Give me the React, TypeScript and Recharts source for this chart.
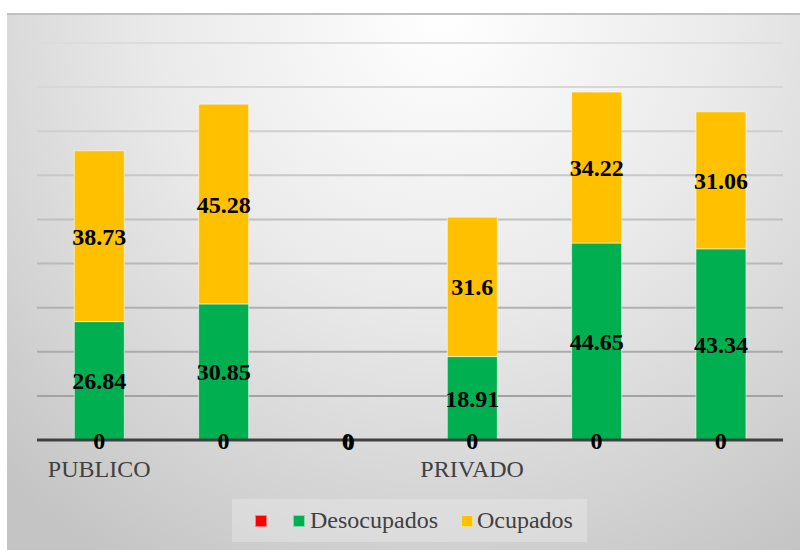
import React from "react";
import { BarChart, Bar, XAxis, YAxis, CartesianGrid, LabelList } from "recharts";

const slots = ["s1", "s2", "s3", "s4", "s5", "s6"];
const tickLabels = ["PUBLICO", "", "", "PRIVADO", "", ""];
const serieRoja: (number | null)[] = [0, 0, 0, 0, 0, 0];
const desocupados: (number | null)[] = [26.84, 30.85, 0, 18.91, 44.65, 43.34];
const ocupados: (number | null)[] = [38.73, 45.28, null, 31.6, 34.22, 31.06];
const yTicks = [0, 10, 20, 30, 40, 50, 60, 70, 80, 90];

const data = slots.map((s, i) => ({
  slot: s,
  label: tickLabels[i],
  roja: serieRoja[i],
  desocupados: desocupados[i],
  ocupados: ocupados[i],
}));

const FONT = "'Liberation Serif', 'Times New Roman', serif";

const gridColor = (y: number) => {
  const t = Math.max(0, Math.min(1, (y - 43) / (396 - 43)));
  const v = Math.round(0xdc - t * (0xdc - 0xa0));
  return `rgb(${v},${v},${v})`;
};

const renderGridLine = (props: any) => {
  const { x1, x2, y1, y2, index } = props;
  return (
    <line
      key={`gl-${index}-${y1}`}
      x1={x1}
      x2={x2}
      y1={y1}
      y2={y2}
      stroke={gridColor(y1)}
      strokeWidth={2}
    />
  );
};

// Zero-valued segments sit on the axis line, so their "0" labels are drawn at the tick.
const CatTick = (props: any) => {
  const { x, y, index } = props;
  const label = tickLabels[index] ?? "";
  const zeros: number[] = [];
  if (serieRoja[index] === 0) zeros.push(0);
  if (desocupados[index] === 0) zeros.push(1);
  if (ocupados[index] === 0) zeros.push(2);
  return (
    <g>
      {zeros.map((z, k) => (
        <text
          key={`z-${k}`}
          x={x + k * 0.8}
          y={y - 7 + k * 0.6}
          textAnchor="middle"
          dominantBaseline="central"
          fontFamily={FONT}
          fontSize={24}
          fontWeight={700}
          fill="#000000"
        >
          0
        </text>
      ))}
      <text
        x={x}
        y={y + 29}
        textAnchor="middle"
        fontFamily={FONT}
        fontSize={24}
        fill="#404040"
      >
        {label}
      </text>
    </g>
  );
};

const labelStyle = {
  fontFamily: FONT,
  fontSize: 24,
  fontWeight: 700,
  fill: "#000000",
};

const fmt = (v: any) => (v === null || v === undefined || v === 0 ? "" : String(v));

export default function App() {
  return (
    <div
      style={{
        position: "absolute",
        left: 7,
        top: 13,
        width: 793,
        height: 537,
        background:
          "radial-gradient(ellipse 80% 120% at 55% 0%, #ffffff 0%, #eaeaea 45%, #d2d2d2 80%, #c4c4c4 100%)",
        boxShadow: "inset 0 2px 0 #c0c0c0",
      }}
    >
      <BarChart
        width={793}
        height={537}
        data={data}
        margin={{ top: 30, right: 17, left: 30, bottom: 60 }}
        barCategoryGap="30%"
      >
        <CartesianGrid vertical={false} horizontal={renderGridLine} />
        <YAxis hide domain={[0, 90]} ticks={yTicks} />
        <XAxis
          dataKey="slot"
          tick={<CatTick />}
          tickLine={false}
          axisLine={{ stroke: "#404040", strokeWidth: 3 }}
          height={50}
          interval={0}
        />
        <Bar dataKey="roja" stackId="a" fill="#ff0000" isAnimationActive={false} />
        <Bar
          dataKey="desocupados"
          stackId="a"
          fill="#00b050"
          stroke="rgba(255,255,255,0.55)"
          strokeWidth={1}
          isAnimationActive={false}
        >
          <LabelList dataKey="desocupados" position="center" style={labelStyle} formatter={fmt} />
        </Bar>
        <Bar
          dataKey="ocupados"
          stackId="a"
          fill="#ffc000"
          stroke="rgba(255,255,255,0.55)"
          strokeWidth={1}
          isAnimationActive={false}
        >
          <LabelList dataKey="ocupados" position="center" style={labelStyle} formatter={fmt} />
        </Bar>
      </BarChart>
      <div
        style={{
          position: "absolute",
          left: 225,
          top: 486,
          width: 355,
          height: 43,
          background: "rgba(232,232,232,0.45)",
          display: "flex",
          alignItems: "center",
          fontFamily: FONT,
          fontSize: 24,
          color: "#404040",
          whiteSpace: "nowrap",
        }}
      >
        <span style={{ display: "inline-block", width: 12, height: 12, background: "#ff0000", marginLeft: 23, border: "1px solid rgba(255,255,255,0.5)", boxSizing: "border-box" }} />
        <span style={{ display: "inline-block", width: 12, height: 12, background: "#00b050", marginLeft: 26, border: "1px solid rgba(255,255,255,0.5)", boxSizing: "border-box" }} />
        <span style={{ marginLeft: 5 }}>Desocupados</span>
        <span style={{ display: "inline-block", width: 12, height: 12, background: "#ffc000", marginLeft: 23, border: "1px solid rgba(255,255,255,0.5)", boxSizing: "border-box" }} />
        <span style={{ marginLeft: 4 }}>Ocupados</span>
      </div>
    </div>
  );
}
